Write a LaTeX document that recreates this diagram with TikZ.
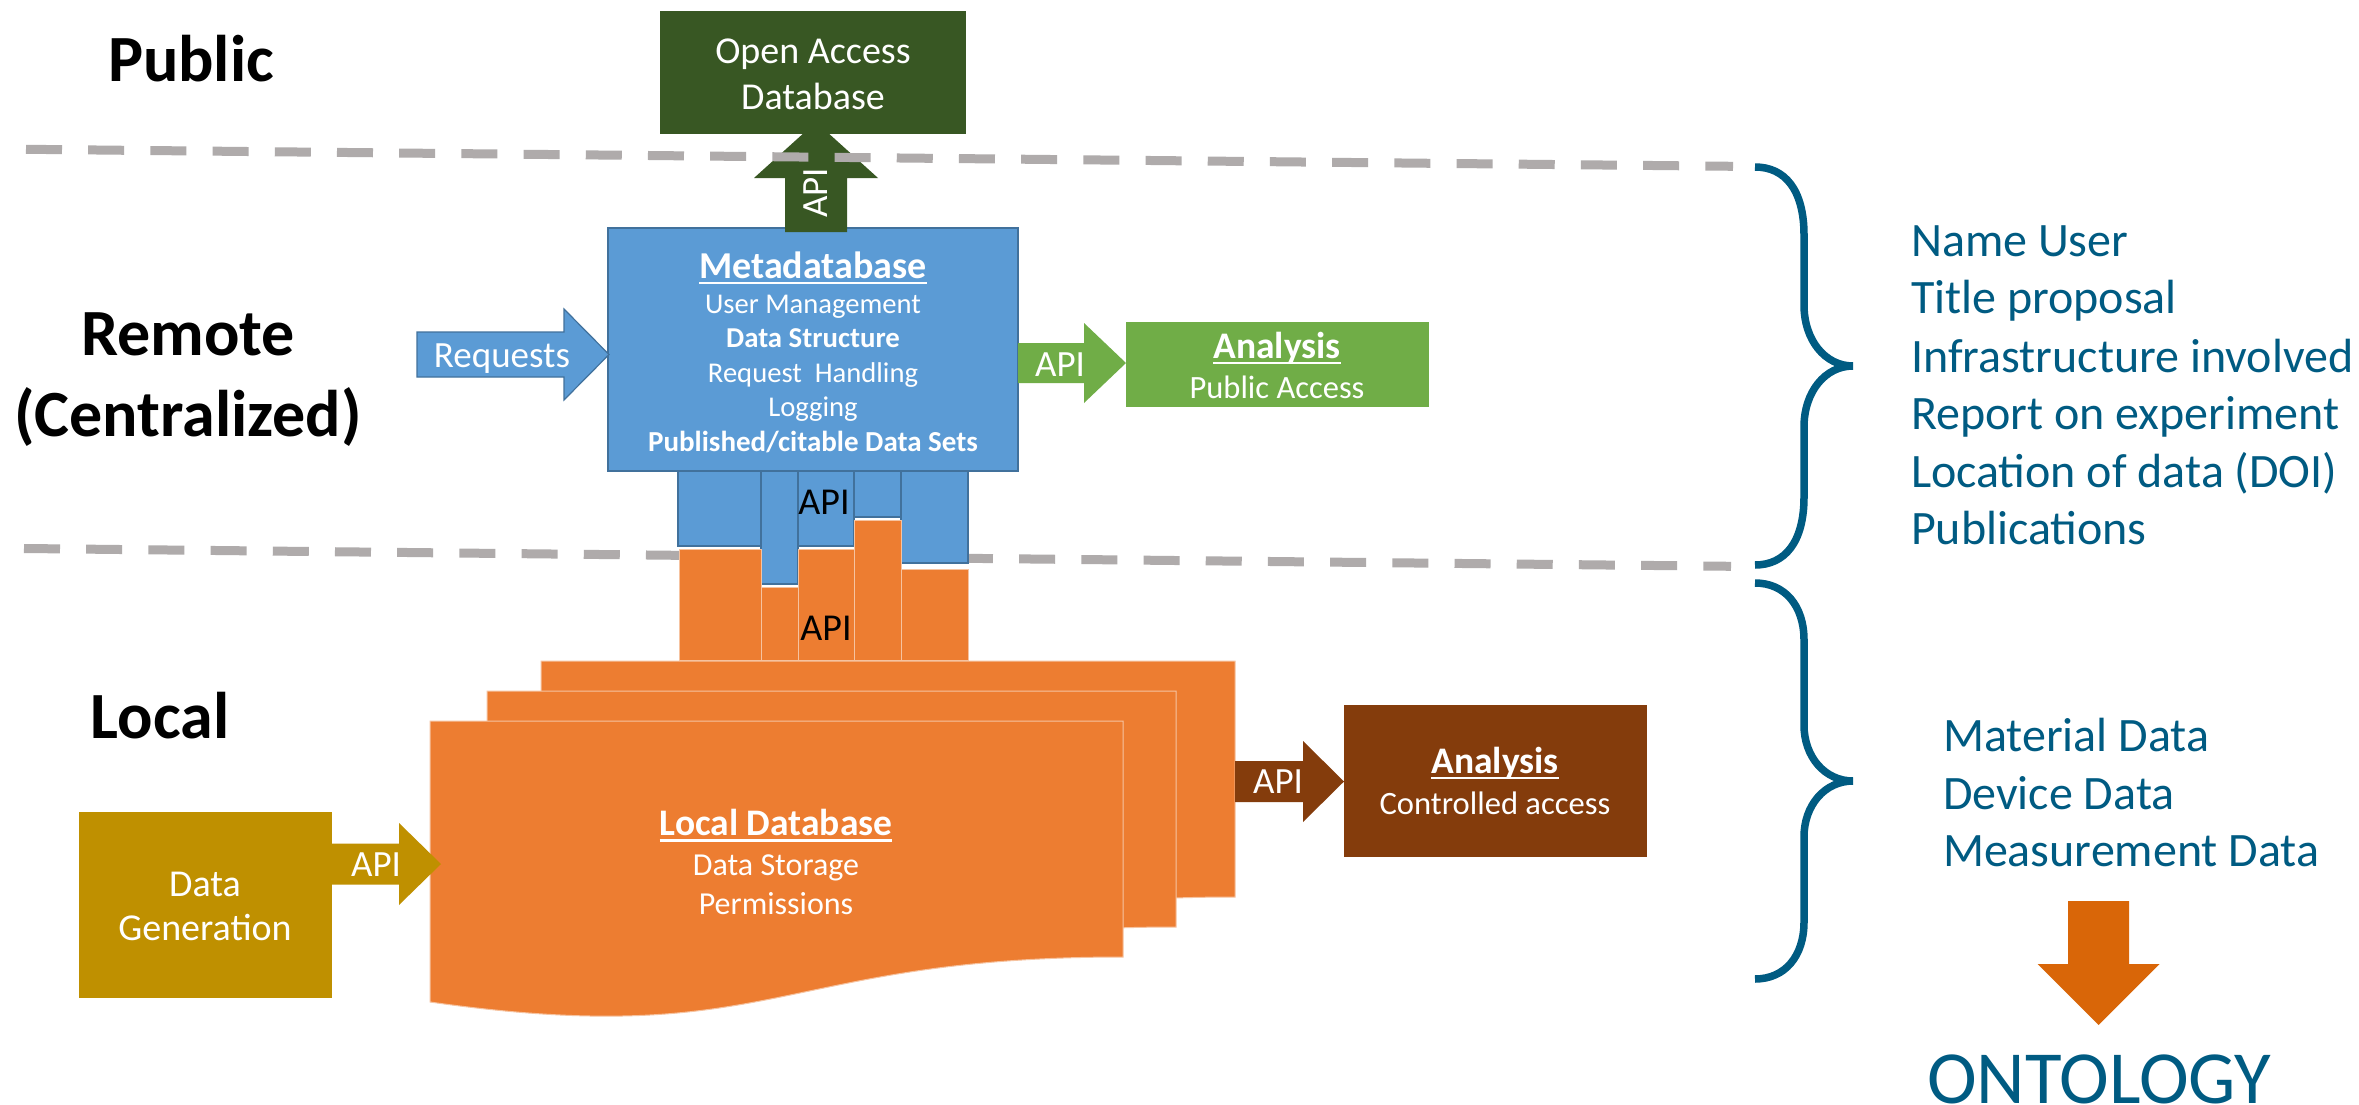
\documentclass[tikz,border=0pt]{standalone}
\usepackage{fontspec}
\setmainfont{Carlito}
\usetikzlibrary{calc}
\definecolor{dkgreen}{HTML}{385723}
\definecolor{mblue}{HTML}{5B9BD5}
\definecolor{mblueline}{HTML}{41719C}
\definecolor{mgreen}{HTML}{70AD47}
\definecolor{morange}{HTML}{ED7D31}
\definecolor{orline}{HTML}{F6C3A0}
\definecolor{mgold}{HTML}{BF9000}
\definecolor{mbrown}{HTML}{843C0C}
\definecolor{mgrey}{HTML}{AFABAB}
\definecolor{teal}{HTML}{005B82}
\definecolor{dkorange}{HTML}{D96608}
\newcommand\fsz[1]{\fontsize{#1}{#1}\selectfont}
\newcommand\ulin[1]{\setbox0=\hbox{#1}\rlap{\rule[-6pt]{\wd0}{2.5pt}}\box0\relax}
% blockarrow: style, tail, tip, half shaft, half head, head length
\newcommand\blockarrow[6]{%
  \coordinate (hb) at ($(#3)!#6pt!(#2)$);
  \path[#1] ($(#2)!#4pt!90:(#3)$) -- ($(hb)!#4pt!90:(#3)$) -- ($(hb)!#5pt!90:(#3)$) -- (#3)
    -- ($(hb)!#5pt!-90:(#3)$) -- ($(hb)!#4pt!-90:(#3)$) -- ($(#2)!#4pt!-90:(#3)$) -- cycle;}
\tikzset{
  txt/.style={anchor=base,inner sep=0pt,outer sep=0pt,text=white},
  lvl/.style={txt,text=black,font=\fsz{66}\bfseries},
  tealt/.style={anchor=base west,inner sep=0pt,outer sep=0pt,text=teal,font=\fsz{48}},
  bx/.style={rectangle,inner sep=0pt,outer sep=0pt,anchor=north west},
  gline/.style={draw=mgrey,line width=9pt,dash pattern=on 36pt off 26.2pt},
  tabb/.style={fill=mblue,draw=mblueline,line width=1.6pt},
  tabo/.style={fill=morange,draw=orline,line width=1pt},
  doc/.style={fill=morange,draw=orline,line width=1pt},
  brace/.style={draw=teal,line width=7.5pt},
}
\begin{document}
\begin{tikzpicture}[x=1pt,y=-1pt]
\useasboundingbox (0,0) rectangle (2359,1105);
\fill[white] (0,0) rectangle (2359,1105);

% level labels
\node[lvl] (public) at (191,82) {Public};
\node[lvl] (remote) at (188,355) {Remote};
\node[lvl] (central) at (188,436) {(Centralized)};
\node[lvl] (local) at (160,738) {Local};

% metadatabase
\node[bx,fill=mblue,draw=mblueline,line width=1.6pt,minimum width=410pt,minimum height=243pt] (meta) at (608,228) {};

% up arrow to open access
\coordinate (uptail) at (816,232);
\coordinate (uptip) at (816,122);
\blockarrow{fill=dkgreen}{uptail}{uptip}{31}{62}{56}
\node[bx,fill=dkgreen,minimum width=306pt,minimum height=123pt] (open) at (660,11) {};
\node[txt,font=\fsz{37},rotate=90,anchor=center] (apiup) at (816,193) {API};

% dashed region lines
\coordinate (d1a) at (26,149.3);
\coordinate (d1b) at (1733,166.3);
\coordinate (d2a) at (24,548.5);
\coordinate (d2b) at (1731,566.3);
\draw[gline] (d1a) -- (d1b);
\draw[gline] (d2a) -- (d2b);

\node[txt,font=\fsz{38}] (opent) at (813,64) {Open Access};
\node[txt,font=\fsz{38}] (opent2) at (813,109.5) {Database};

% requests arrow
\coordinate (reqtail) at (417,354.5);
\coordinate (reqtip) at (609,354.5);
\blockarrow{fill=mblue,draw=mblueline,line width=1.2pt}{reqtail}{reqtip}{22.5}{45.5}{45}
\node[txt,font=\fsz{37}] (req) at (502,367) {Requests};

% metadatabase text
\node[txt,font=\fsz{38}\bfseries] (m0) at (813,278) {\ulin{Metadatabase}};
\node[txt,font=\fsz{28.6}] (m1) at (813,313.5) {User Management};
\node[txt,font=\fsz{28.8}\bfseries] (m2) at (813,347.5) {Data Structure};
\node[txt,font=\fsz{28.6}] (m3) at (813,382.5) {Request\ \ Handling};
\node[txt,font=\fsz{28.6}] (m4) at (813,416.5) {Logging};
\node[txt,font=\fsz{29}\bfseries] (m5) at (813,451) {Published/citable Data Sets};

% green analysis
\node[bx,fill=mgreen,minimum width=303pt,minimum height=85pt] (ana1) at (1126,322) {};
\coordinate (gtail) at (1018,363);
\coordinate (gtip) at (1126,363);
\blockarrow{fill=mgreen}{gtail}{gtip}{20}{40}{42}
\node[txt,font=\fsz{37}] (gapi) at (1060,376) {API};
\node[txt,font=\fsz{37.5}\bfseries] (gana) at (1277,358) {\ulin{Analysis}};
\node[txt,font=\fsz{32.5}] (gpub) at (1277,398) {Public Access};

% blue tabs
\draw[tabb] (678,471) rectangle (761,546);
\draw[tabb] (761,471) rectangle (798,584);
\draw[tabb] (798,471) rectangle (854,546);
\draw[tabb] (854,471) rectangle (901,517);
\draw[tabb] (901,471) rectangle (968,563);
\node[txt,text=black,font=\fsz{38}] (apib) at (824,514) {API};

% orange tabs
\draw[tabo] (679,549) rectangle (761,660);
\draw[tabo] (761,587) rectangle (798,660);
\draw[tabo] (798,549) rectangle (854,660);
\draw[tabo] (854,520) rectangle (901,660);
\draw[tabo] (901,569) rectangle (968,660);
\node[txt,text=black,font=\fsz{38}] (apio) at (826,640) {API};

% local database stack
\draw[doc] (541,661) -- (1235,661) -- (1235,897) .. controls (888,897) and (888,991) .. (541,942) -- cycle;
\draw[doc] (487,691) -- (1176,691) -- (1176,927) .. controls (831,927) and (831,1021) .. (487,972) -- cycle;
\draw[doc] (430,721) -- (1123,721) -- (1123,957) .. controls (776,957) and (776,1051) .. (430,1002) -- cycle;
\node[txt,font=\fsz{37.5}\bfseries] (l0) at (776,835.5) {\ulin{Local Database}};
\node[txt,font=\fsz{32}] (l1) at (776,875) {Data Storage};
\node[txt,font=\fsz{32}] (l2) at (776,914) {Permissions};

% data generation
\node[bx,fill=mgold,minimum width=253pt,minimum height=186pt] (gen) at (79,812) {};
\coordinate (gtail2) at (332,864);
\coordinate (gtip2) at (441,864);
\blockarrow{fill=mgold}{gtail2}{gtip2}{20.5}{41}{42}
\node[txt,font=\fsz{37}] (gapi2) at (376,876) {API};
\node[txt,font=\fsz{38}] (g1) at (205,896.5) {Data};
\node[txt,font=\fsz{38}] (g2) at (205,940.5) {Generation};

% brown analysis
\node[bx,fill=mbrown,minimum width=303pt,minimum height=152pt] (ana2) at (1344,705) {};
\coordinate (btail) at (1235,781.5);
\coordinate (btip) at (1344,781.5);
\blockarrow{fill=mbrown}{btail}{btip}{20.5}{40.5}{41}
\node[txt,font=\fsz{37}] (bapi) at (1278,793) {API};
\node[txt,font=\fsz{37.5}\bfseries] (bana) at (1495,773) {\ulin{Analysis}};
\node[txt,font=\fsz{32.6}] (bctl) at (1495,814) {Controlled access};

% braces
\draw[brace] (1755,167) .. controls (1785,167) and (1804,190) .. (1804,235) -- (1804,305)
  .. controls (1804,340) and (1825,366) .. (1853,366)
  .. controls (1825,366) and (1804,392) .. (1804,427) -- (1804,497)
  .. controls (1804,542) and (1785,565) .. (1755,565);
\draw[brace] (1755,583) .. controls (1785,583) and (1804,606) .. (1804,640) -- (1804,725)
  .. controls (1804,757) and (1825,781) .. (1853,781)
  .. controls (1825,781) and (1804,805) .. (1804,837) -- (1804,922)
  .. controls (1804,956) and (1785,979) .. (1755,979);

% right text
\node[tealt] (r1) at (1911,256.5) {Name User};
\node[tealt] (r2) at (1911,313.5) {Title proposal};
\node[tealt] (r3) at (1911,372.5) {Infrastructure involved};
\node[tealt] (r4) at (1911,429.5) {Report on experiment};
\node[tealt] (r5) at (1911,487.5) {Location of data (DOI)};
\node[tealt] (r6) at (1911,544.5) {Publications};
\node[tealt] (s1) at (1943,751.5) {Material Data};
\node[tealt] (s2) at (1943,809) {Device Data};
\node[tealt] (s3) at (1943,866.5) {Measurement Data};

\coordinate (otail) at (2098.5,901);
\coordinate (otip) at (2098.5,1025);
\blockarrow{fill=dkorange}{otail}{otip}{30.5}{61}{61}
\node[tealt,font=\fsz{75}] (onto) at (1927,1103) {ONTOLOGY};
\end{tikzpicture}
\end{document}
